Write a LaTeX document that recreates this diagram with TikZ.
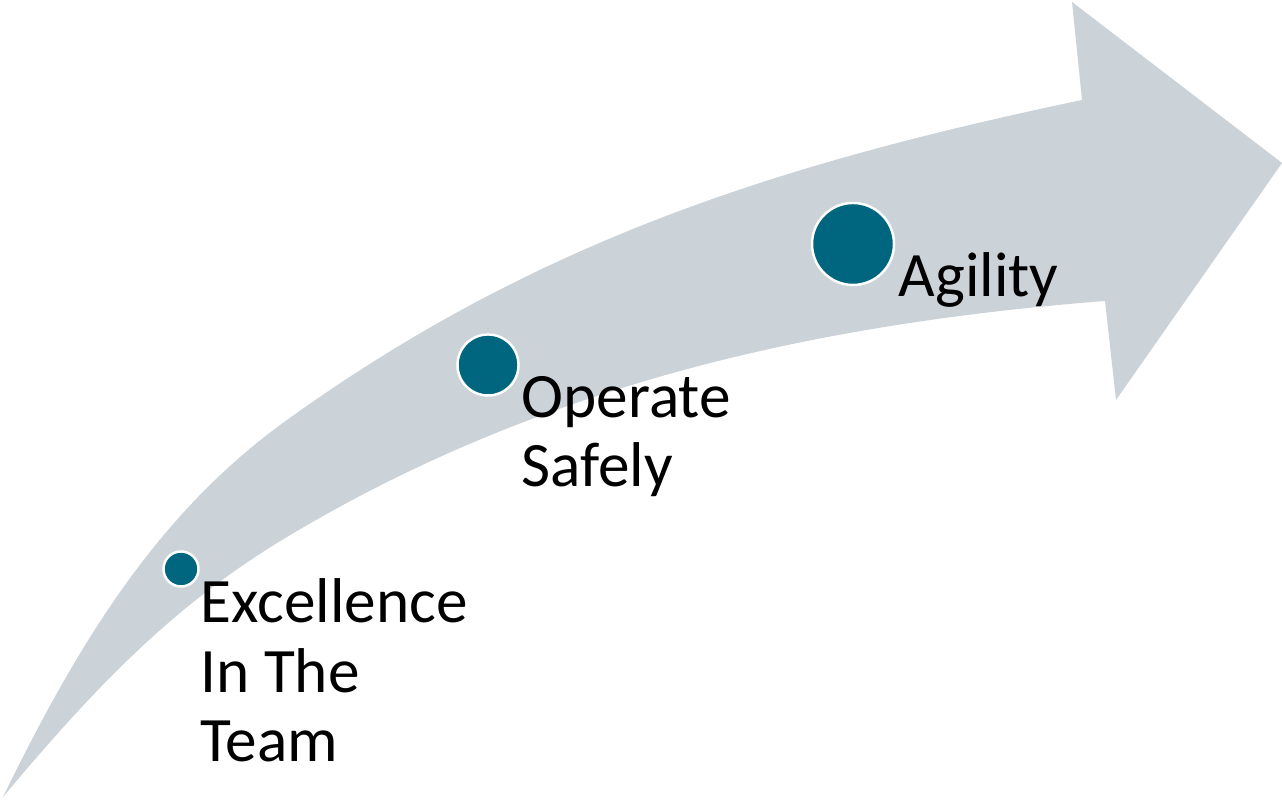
\documentclass[tikz,border=0pt]{standalone}
\usepackage{fontspec}
\setmainfont{Carlito}
\definecolor{bandgray}{HTML}{CBD2D8}
\definecolor{dotteal}{HTML}{006680}

\begin{document}
\begin{tikzpicture}[
    dot/.style={circle, fill=dotteal, draw=white, line width=0.7pt, inner sep=0pt},
    lbl/.style={anchor=base west, align=left, inner sep=0pt, font=\fontsize{18}{19.9}\selectfont}]
    \useasboundingbox (0,0) rectangle (12.82,8.01);
    % curved band: upper edge out to the head, lower edge back to the tail
    \fill[bandgray] (0.03,0.04) .. controls (0.80,1.62) and (1.60,2.90) .. (2.87,3.81)
        .. controls (5.37,5.61) and (7.82,6.38) .. (10.82,7.01)
        -- (10.72,7.99) -- (12.82,6.38) -- (11.16,4.01) -- (11.05,5.00)
        .. controls (8.25,4.78) and (5.47,4.20) .. (2.87,2.64)
        .. controls (1.77,1.98) and (1.00,1.20) .. (0.03,0.04) -- cycle;
    \node[dot, minimum size=0.35cm] (dotA) at (1.81,2.32) {};
    \node[dot, minimum size=0.61cm] (dotB) at (4.88,4.36) {};
    \node[dot, minimum size=0.82cm] (dotC) at (8.53,5.57) {};
    % base anchor sits on the last line
    \node[lbl] (excellence) at (2.00,0.39) {Excellence\\In The\\Team};
    \node[lbl] (operate) at (5.21,3.14) {Operate\\Safely};
    \node[lbl] (agility) at (8.98,5.04) {Agility};
\end{tikzpicture}
\end{document}
